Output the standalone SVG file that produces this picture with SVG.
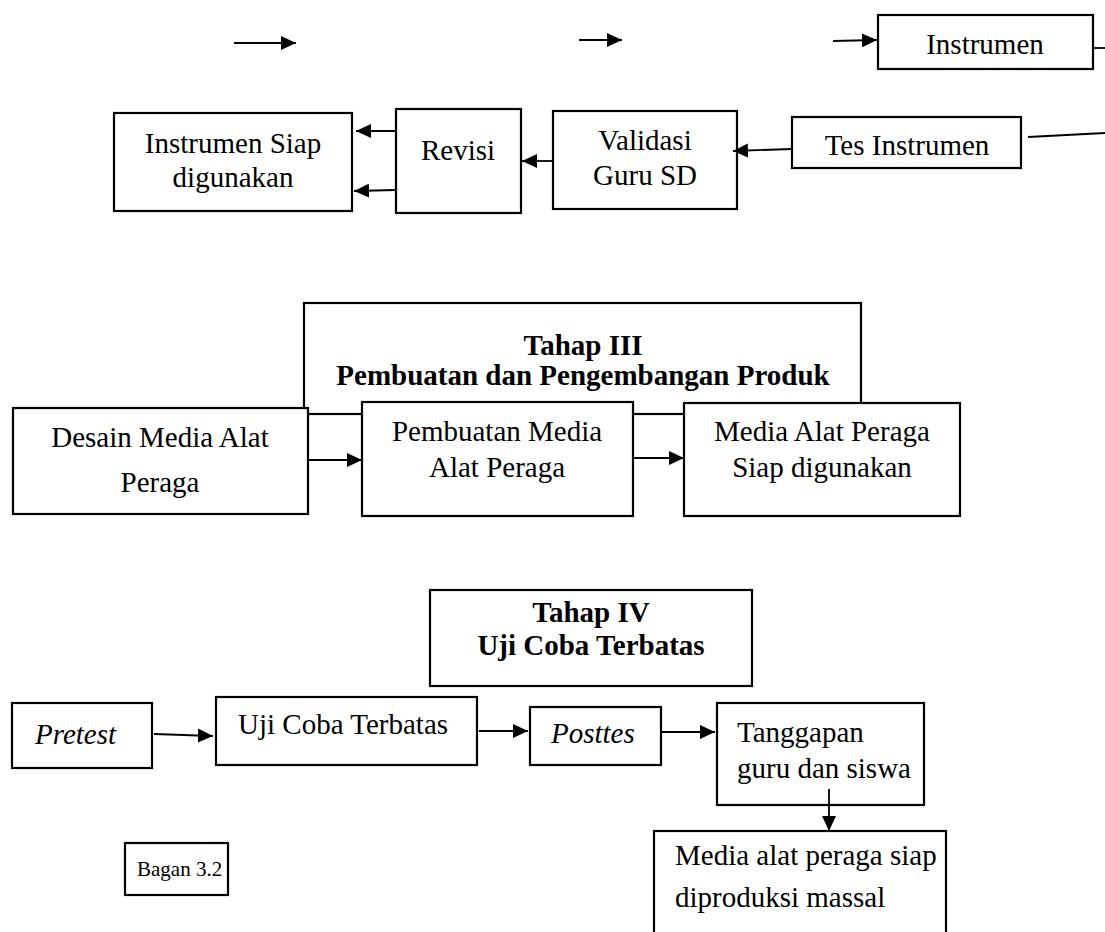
<svg xmlns="http://www.w3.org/2000/svg" width="1105" height="932" viewBox="0 0 1105 932">
<style>
.b{fill:#fff;stroke:#000;stroke-width:2.2}
.t{font-family:"Liberation Serif","Times New Roman",serif;font-size:29px;fill:#000}
.c{text-anchor:middle}
.bd{font-weight:bold}
.i{font-style:italic}
.s{font-size:21px}
.ln{stroke:#000;stroke-width:1.8;fill:none}
</style>
<defs>
<marker id="ah" markerUnits="userSpaceOnUse" markerWidth="16" markerHeight="14" refX="15" refY="7" orient="auto">
<path d="M0,0 L15,7 L0,14 z" fill="#000"/>
</marker>
</defs>
<rect width="1105" height="932" fill="#fff"/>
<g id="instrumen"><rect class="b" x="878" y="15" width="215" height="54"/><text class="t c" x="985" y="54">Instrumen</text></g>
<g id="tes-instrumen"><rect class="b" x="792" y="117" width="229" height="51"/><text class="t c" x="907" y="155">Tes Instrumen</text></g>
<g id="validasi"><rect class="b" x="553" y="111" width="184" height="98"/><text class="t c" x="645" y="150">Validasi</text><text class="t c" x="645" y="185">Guru SD</text></g>
<g id="revisi"><rect class="b" x="396" y="109" width="125" height="104"/><text class="t c" x="458" y="160">Revisi</text></g>
<g id="instrumen-siap"><rect class="b" x="114" y="113" width="238" height="98"/><text class="t c" x="233" y="153">Instrumen Siap</text><text class="t c" x="233" y="187">digunakan</text></g>
<g id="tahap3"><rect class="b" x="304" y="303" width="557" height="111"/><text class="t c bd" x="583" y="355">Tahap III</text><text class="t c bd" x="583" y="385">Pembuatan dan Pengembangan Produk</text></g>
<g id="desain"><rect class="b" x="13" y="408" width="295" height="106"/><text class="t c" x="160" y="447">Desain Media Alat</text><text class="t c" x="160" y="492">Peraga</text></g>
<g id="pembuatan"><rect class="b" x="362" y="402" width="271" height="114"/><text class="t c" x="497" y="441">Pembuatan Media</text><text class="t c" x="497" y="477">Alat Peraga</text></g>
<g id="media-siap"><rect class="b" x="684" y="403" width="276" height="113"/><text class="t c" x="822" y="441">Media Alat Peraga</text><text class="t c" x="822" y="477">Siap digunakan</text></g>
<g id="tahap4"><rect class="b" x="430" y="590" width="322" height="96"/><text class="t c bd" x="591" y="622">Tahap IV</text><text class="t c bd" x="591" y="655">Uji Coba Terbatas</text></g>
<g id="pretest"><rect class="b" x="12" y="703" width="140" height="65"/><text class="t i" x="35" y="744">Pretest</text></g>
<g id="uji-coba"><rect class="b" x="216" y="697" width="261" height="68"/><text class="t" x="238" y="734">Uji Coba Terbatas</text></g>
<g id="posttes"><rect class="b" x="530" y="707" width="131" height="58"/><text class="t i" x="551" y="743">Posttes</text></g>
<g id="tanggapan"><rect class="b" x="717" y="703" width="207" height="102"/><text class="t" x="737" y="742">Tanggapan</text><text class="t" x="737" y="778">guru dan siswa</text></g>
<g id="media-massal"><rect class="b" x="654" y="831" width="292" height="120"/><text class="t" x="675" y="865">Media alat peraga siap</text><text class="t" x="675" y="907">diproduksi massal</text></g>
<g id="bagan"><rect class="b" x="125" y="843" width="103" height="52"/><text class="t s" x="137" y="876">Bagan 3.2</text></g>
<g id="connectors">
<line class="ln" x1="234" y1="43" x2="296" y2="43" marker-end="url(#ah)"/>
<line class="ln" x1="579" y1="40" x2="622" y2="40" marker-end="url(#ah)"/>
<line class="ln" x1="833" y1="41" x2="877" y2="40" marker-end="url(#ah)"/>
<line class="ln" x1="1093" y1="48" x2="1105" y2="48"/>
<line class="ln" x1="1028" y1="137" x2="1105" y2="133"/>
<line class="ln" x1="792" y1="149" x2="733" y2="151" marker-end="url(#ah)"/>
<line class="ln" x1="553" y1="161" x2="522" y2="161" marker-end="url(#ah)"/>
<line class="ln" x1="396" y1="131" x2="356" y2="131" marker-end="url(#ah)"/>
<line class="ln" x1="396" y1="190" x2="354" y2="191" marker-end="url(#ah)"/>
<line class="ln" x1="308" y1="460" x2="362" y2="460" marker-end="url(#ah)"/>
<line class="ln" x1="633" y1="458" x2="684" y2="458" marker-end="url(#ah)"/>
<line class="ln" x1="154" y1="734" x2="213" y2="736" marker-end="url(#ah)"/>
<line class="ln" x1="479" y1="731" x2="528" y2="731" marker-end="url(#ah)"/>
<line class="ln" x1="661" y1="732" x2="715" y2="732" marker-end="url(#ah)"/>
<line class="ln" x1="829" y1="789" x2="829" y2="831" marker-end="url(#ah)"/>
</g>
</svg>
